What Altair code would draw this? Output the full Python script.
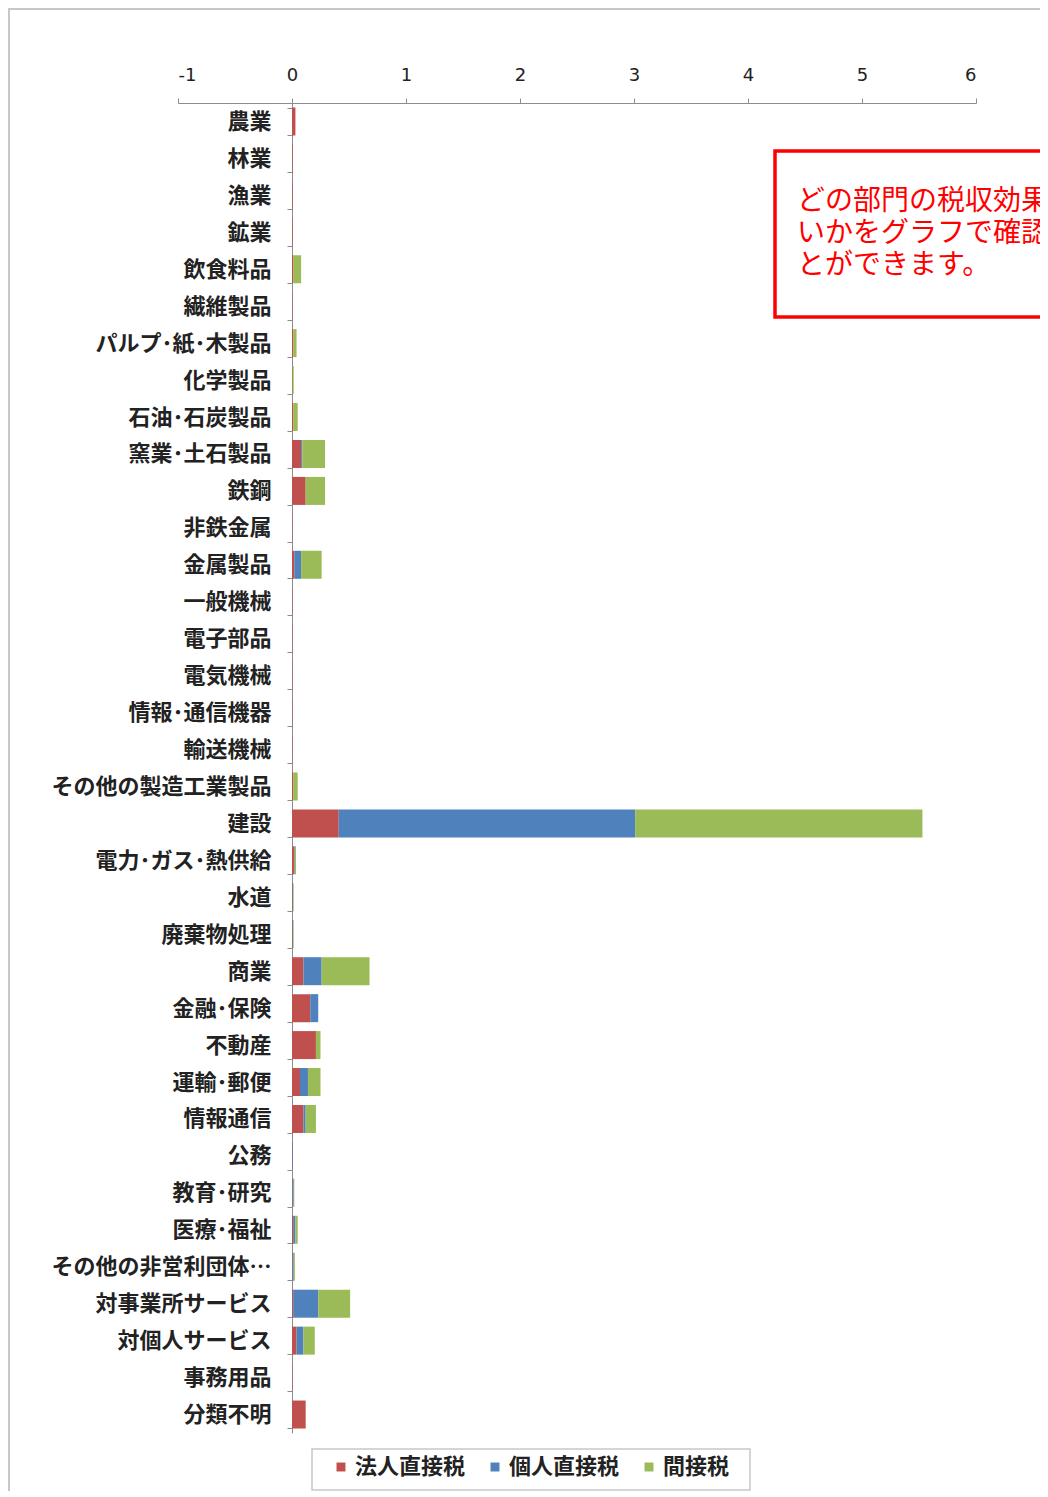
import altair as alt
import pandas as pd

categories = ["農業", "林業", "漁業", "鉱業", "飲食料品", "繊維製品", "パルプ･紙･木製品",
              "化学製品", "石油･石炭製品", "窯業･土石製品", "鉄鋼", "非鉄金属", "金属製品",
              "一般機械", "電子部品", "電気機械", "情報･通信機器", "輸送機械",
              "その他の製造工業製品", "建設", "電力･ガス･熱供給", "水道", "廃棄物処理",
              "商業", "金融･保険", "不動産", "運輸･郵便", "情報通信", "公務", "教育･研究",
              "医療･福祉", "その他の非営利団体…", "対事業所サービス", "対個人サービス",
              "事務用品", "分類不明"]
corporate = [0.03, 0.005, 0.005, 0.005, 0.01, 0.003, 0.01, 0.005, 0.01, 0.08, 0.12, 0.003, 0.02,
             0.003, 0.003, 0.003, 0.003, 0.003, 0.01, 0.41, 0.02, 0.005, 0.005,
             0.10, 0.16, 0.21, 0.07, 0.10, 0.003, 0.005, 0.01, 0.005, 0.01, 0.04, 0.003, 0.12]
personal = [0.0, 0.0, 0.0, 0.0, 0.0, 0.0, 0.0, 0.0, 0.0, 0.01, 0.0, 0.0, 0.06,
            0.0, 0.0, 0.0, 0.0, 0.0, 0.0, 2.60, 0.005, 0.005, 0.005,
            0.16, 0.07, 0.0, 0.07, 0.02, 0.005, 0.01, 0.02, 0.01, 0.22, 0.06, 0.0, 0.0]
indirect = [0.0, 0.0, 0.0, 0.0, 0.07, 0.0, 0.03, 0.01, 0.04, 0.20, 0.17, 0.0, 0.18,
            0.0, 0.0, 0.0, 0.0, 0.0, 0.04, 2.52, 0.01, 0.005, 0.005,
            0.42, 0.0, 0.04, 0.11, 0.09, 0.0, 0.005, 0.02, 0.01, 0.28, 0.10, 0.0, 0.0]
series = ["法人直接税", "個人直接税", "間接税"]
colors = ["#C0504D", "#4F81BD", "#9BBB59"]
x_ticks = [-1, 0, 1, 2, 3, 4, 5, 6]
note_lines = ["どの部門の税収効果が大き", "いかをグラフで確認するこ", "とができます。"]

rows = []
for i, c in enumerate(categories):
    for k, (s, vals) in enumerate(zip(series, [corporate, personal, indirect])):
        rows.append({"部門": c, "税": s, "値": vals[i], "順": k})
df = pd.DataFrame(rows)

W, H = 798, 35 * 38
FONT = "Noto Sans CJK JP"
one = pd.DataFrame({"a": [0]})

bars = alt.Chart(df).mark_bar(size=28).encode(
    y=alt.Y("部門:N", sort=categories,
            scale=alt.Scale(paddingInner=0.26, paddingOuter=0.13),
            axis=alt.Axis(title=None, orient="left", offset=-114, domainColor="#8c8c8c",
                          tickColor="#8c8c8c", tickSize=5, tickBand="extent",
                          labelFont=FONT, labelFontSize=22, labelFontWeight="bold",
                          labelColor="#222222", labelPadding=16, labelLimit=400)),
    x=alt.X("sum(値):Q", stack="zero",
            scale=alt.Scale(domain=[-1, 6], nice=False),
            axis=alt.Axis(title=None, orient="top", values=x_ticks, grid=False,
                          labelExpr="'' + datum.value",
                          domainColor="#8c8c8c", tickColor="#8c8c8c", tickSize=5,
                          labelFont="DejaVu Sans", labelFontSize=18, labelColor="#222222",
                          labelPadding=14)),
    color=alt.Color("税:N", sort=series,
                    scale=alt.Scale(domain=series, range=colors),
                    legend=alt.Legend(title=None, orient="none", direction="horizontal",
                                      legendX=152, legendY=1353,
                                      symbolType="square", symbolSize=80,
                                      labelFont=FONT, labelFontSize=22, labelFontWeight="bold",
                                      labelColor="#222222", columnPadding=18, labelOffset=3,
                                      padding=0, symbolStrokeWidth=0)),
    order=alt.Order("順:Q"),
)

legend_box = alt.Chart(one).mark_rect(fill=None, stroke="#c8c8c8", strokeWidth=1.5).encode(
    x=alt.value(134), x2=alt.value(572), y=alt.value(1346), y2=alt.value(1387))

box = alt.Chart(one).mark_rect(fill="white", stroke="#ff0000", strokeWidth=3.5).encode(
    x=alt.value(597), x2=alt.value(1040), y=alt.value(48), y2=alt.value(214))

note_layers = [
    alt.Chart(one).mark_text(align="left", baseline="middle", font=FONT, fontSize=28,
                             color="#ff0000", text=line).encode(
        x=alt.value(619), y=alt.value(99 + 32 * i))
    for i, line in enumerate(note_lines)
]

frame = alt.Chart(one).mark_rect(fill=None, stroke="#c8c8c8", strokeWidth=2).encode(
    x=alt.value(-169), x2=alt.value(1000), y=alt.value(-94), y2=alt.value(1392))

chart = alt.layer(frame, bars, legend_box, box, *note_layers).properties(
    width=W, height=H, background="white",
    padding={"left": 170, "top": 95, "right": 64, "bottom": 58},
    autosize=alt.AutoSizeParams(type="none"),
).configure_view(stroke=None)

chart.save("out.html", embed_options={"renderer": "svg", "actions": False})
